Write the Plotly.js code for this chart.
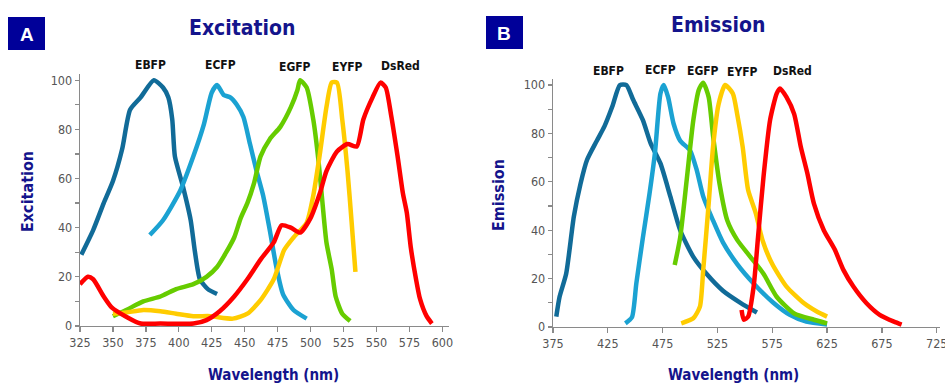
<!DOCTYPE html>
<html>
<head>
<meta charset="utf-8">
<script src="https://cdn.plot.ly/plotly-3.0.1.min.js"></script>
<style>html,body{margin:0;padding:0;background:#fff}#chart{width:945px;height:385px}</style>
</head>
<body>
<div id="chart"></div>
<script>
// ---------- Panel A: Excitation ----------
const exEBFP_x = [326,335,343,350,357,363,371,381,388,392,395,397,403,409,412,416,422,429];
const exEBFP_y = [29,39,50,59,72,88,93,100,97,93,84,69,57,43,31,19,15,13];
const exECFP_x = [378,388,401,411,419,425,429,434,439,444,449,454,459,464,469,474,479,487,497];
const exECFP_y = [37,43,55,69,82,95,98,94,93,90,85,74,63,53,39,24,13,6.5,3];
const exEGFP_x = [350,360,373,386,398,411,421,429,436,442,447,452,457,462,469,477,485,490,492,497,502,506,509,512,516,519,524,530];
const exEGFP_y = [4,6.5,10,12,15,17,20,24,30,36,44,50,58,69,76,81,89,96,100,97,84,67,50,34,23,12,5,2];
const exEYFP_x = [350,360,373,386,398,411,424,441,452,462,472,480,487,497,502,507,512,516,520,524,528,531,534];
const exEYFP_y = [5,5.5,6.5,6,5,4,4,3,5,10.5,19,31,36,42,53,70,89,99,99,84,63,43,22];
const exDsRed_x = [325,331,335,343,349,360,371,386,411,421,431,442,452,462,472,478,485,492,500,507,512,520,528,535,540,547,553,557,561,566,570,573,576,580,583,588,592];
const exDsRed_y = [17,20,19,12,7.6,3.8,1,1,1,2.4,6,12,19,27,34,41,40,38,44,54,63,71,74,73,84,93,99,97,86,69,54,46,32,19,11,4,1];

// ---------- Panel B: Emission ----------
const emEBFP_x = [378,381,387,394,400,406,415,422,429,436,442,448,457,464,473,482,491,503,515,530,546,561];
const emEBFP_y = [4.3,12.5,22,45.6,59,69,77,83,91,100,100,94,85.5,76,67.6,54,40,29,22,15,10,6];
const emECFP_x = [441,447,451,457,463,468,473,476,480,485,491,500,506,512,521,530,543,558,576,591,606,625];
const emECFP_y = [1.5,4,18,37,55,72,96.5,100,95,84,77,73,65,54,44,35,26,18,10,5,2.2,1];
const emEGFP_x = [486,491,497,503,508,512,517,521,527,534,543,555,567,579,595,613,625];
const emEGFP_y = [25.6,37,61,85.5,98,101,95,79,59,44,36,29,22,12.5,5.6,3,1.5];
const emEYFP_x = [492,503,509,512,517,521,526,532,539,543,548,553,560,566,575,588,604,616,625];
const emEYFP_y = [1.5,3.6,8.4,23.5,51,74.5,92,100,96.5,88,74.5,56.6,47,36,26,16.7,9.8,6.3,4.3];
const emDsRed_x = [547,549,553,558,562,567,573,579,582,588,595,601,607,613,622,632,640,649,661,673,686,693];
const emDsRed_y = [7,3,4.3,16.7,37,62,85.5,96.5,98.6,95,88,74.5,63.5,51,40,32,23.5,16.7,9.8,5,2.2,1];

const names = ['EBFP','ECFP','EGFP','EYFP','DsRed'];
const colors = ['#116b98','#1ba2d2','#66cc00','#ffcc00','#ff0000'];
const exX = [exEBFP_x, exECFP_x, exEGFP_x, exEYFP_x, exDsRed_x];
const exY = [exEBFP_y, exECFP_y, exEGFP_y, exEYFP_y, exDsRed_y];
const emX = [emEBFP_x, emECFP_x, emEGFP_x, emEYFP_x, emDsRed_x];
const emY = [emEBFP_y, emECFP_y, emEGFP_y, emEYFP_y, emDsRed_y];
const xTicksA = [325,350,375,400,425,450,475,500,525,550,575,600];
const xTicksB = [375,425,475,525,575,625,675,725];
const yTicks = [0,10,20,30,40,50,60,70,80,90,100];
const yTickText = ['0','','20','','40','','60','','80','','100'];

const W = 945, H = 385;
const px = v => v / W;
const py = v => (H - v) / H;
const NARROW = '"Liberation Sans Narrow", "Arial Narrow", "DejaVu Sans Condensed", sans-serif';
const NAVY = '#14148c';

const traces = [];
for (let i = 0; i < 5; i++) {
  traces.push({x: exX[i], y: exY[i], xaxis: 'x', yaxis: 'y', mode: 'lines', name: names[i],
    line: {color: colors[i], width: 4.5, shape: 'spline', smoothing: 0.6}, showlegend: false, hoverinfo: 'x+y+name'});
}
for (let i = 0; i < 5; i++) {
  traces.push({x: emX[i], y: emY[i], xaxis: 'x2', yaxis: 'y2', mode: 'lines', name: names[i],
    line: {color: colors[i], width: 4.5, shape: 'spline', smoothing: 0.6}, showlegend: false, hoverinfo: 'x+y+name'});
}

const axisCommon = {
  showgrid: false, zeroline: false, showline: true, linecolor: '#8a8a8a', linewidth: 1.3,
  ticks: 'outside', ticklen: 5, tickcolor: '#8a8a8a', tickwidth: 1.3,
  tickfont: {family: NARROW, size: 12.5, color: '#555'}, fixedrange: true, ticklabeloverflow: 'allow'
};

const layout = {
  width: W, height: H, margin: {l: 0, r: 0, t: 0, b: 0},
  paper_bgcolor: '#fff', plot_bgcolor: '#fff', showlegend: false,
  xaxis: Object.assign({}, axisCommon, {domain: [px(80), px(449)], range: [325, 605], tickmode: 'array', tickvals: xTicksA, anchor: 'y'}),
  yaxis: Object.assign({}, axisCommon, {domain: [py(326), py(74)], range: [0, 102.5], tickmode: 'array', tickvals: yTicks, ticktext: yTickText, anchor: 'x', ticklen: 4}),
  xaxis2: Object.assign({}, axisCommon, {domain: [px(553), px(940)], range: [375, 728], tickmode: 'array', tickvals: xTicksB, anchor: 'y2'}),
  yaxis2: Object.assign({}, axisCommon, {domain: [py(327), py(79)], range: [0, 102.5], tickmode: 'array', tickvals: yTicks, ticktext: yTickText, anchor: 'x2', ticklen: 4}),
  shapes: [
    {type: 'rect', xref: 'paper', yref: 'paper', x0: px(8), x1: px(45), y0: py(50), y1: py(17), fillcolor: '#000099', line: {width: 0}},
    {type: 'rect', xref: 'paper', yref: 'paper', x0: px(486), x1: px(523), y0: py(49), y1: py(16), fillcolor: '#000099', line: {width: 0}}
  ],
  annotations: []
};

function ann(text, x, y, size, color, extra) {
  layout.annotations.push(Object.assign({text: text, xref: 'paper', yref: 'paper', x: px(x), y: py(y),
    xanchor: 'center', yanchor: 'middle', showarrow: false,
    font: {family: NARROW, size: size, color: color}}, extra || {}));
}
ann('<b>A</b>', 26.5, 34, 19, '#fff', {font: {family: 'Liberation Sans, Arial, sans-serif', size: 19, color: '#fff'}});
ann('<b>B</b>', 504.5, 33, 19, '#fff', {font: {family: 'Liberation Sans, Arial, sans-serif', size: 19, color: '#fff'}});
ann('<b>Excitation</b>', 242, 28, 21, NAVY);
ann('<b>Emission</b>', 718, 25, 21, NAVY);
ann('<b>Wavelength (nm)</b>', 273, 375, 15, NAVY);
ann('<b>Wavelength (nm)</b>', 733, 375, 15, NAVY);
ann('<b>Excitation</b>', 27, 192, 16, NAVY, {textangle: -90});
ann('<b>Emission</b>', 498, 195, 16, NAVY, {textangle: -90});
const labA = [[150,65],[220,65],[295,67],[347,67],[400,66]];
const labB = [[608,71],[660,70],[703,71],[742,72],[792,71]];
for (let i = 0; i < 5; i++) {
  ann('<b>' + names[i] + '</b>', labA[i][0], labA[i][1], 12, '#111');
  ann('<b>' + names[i] + '</b>', labB[i][0], labB[i][1], 12, '#111');
}

Plotly.newPlot('chart', traces, layout, {staticPlot: true, displayModeBar: false});
</script>
</body>
</html>
